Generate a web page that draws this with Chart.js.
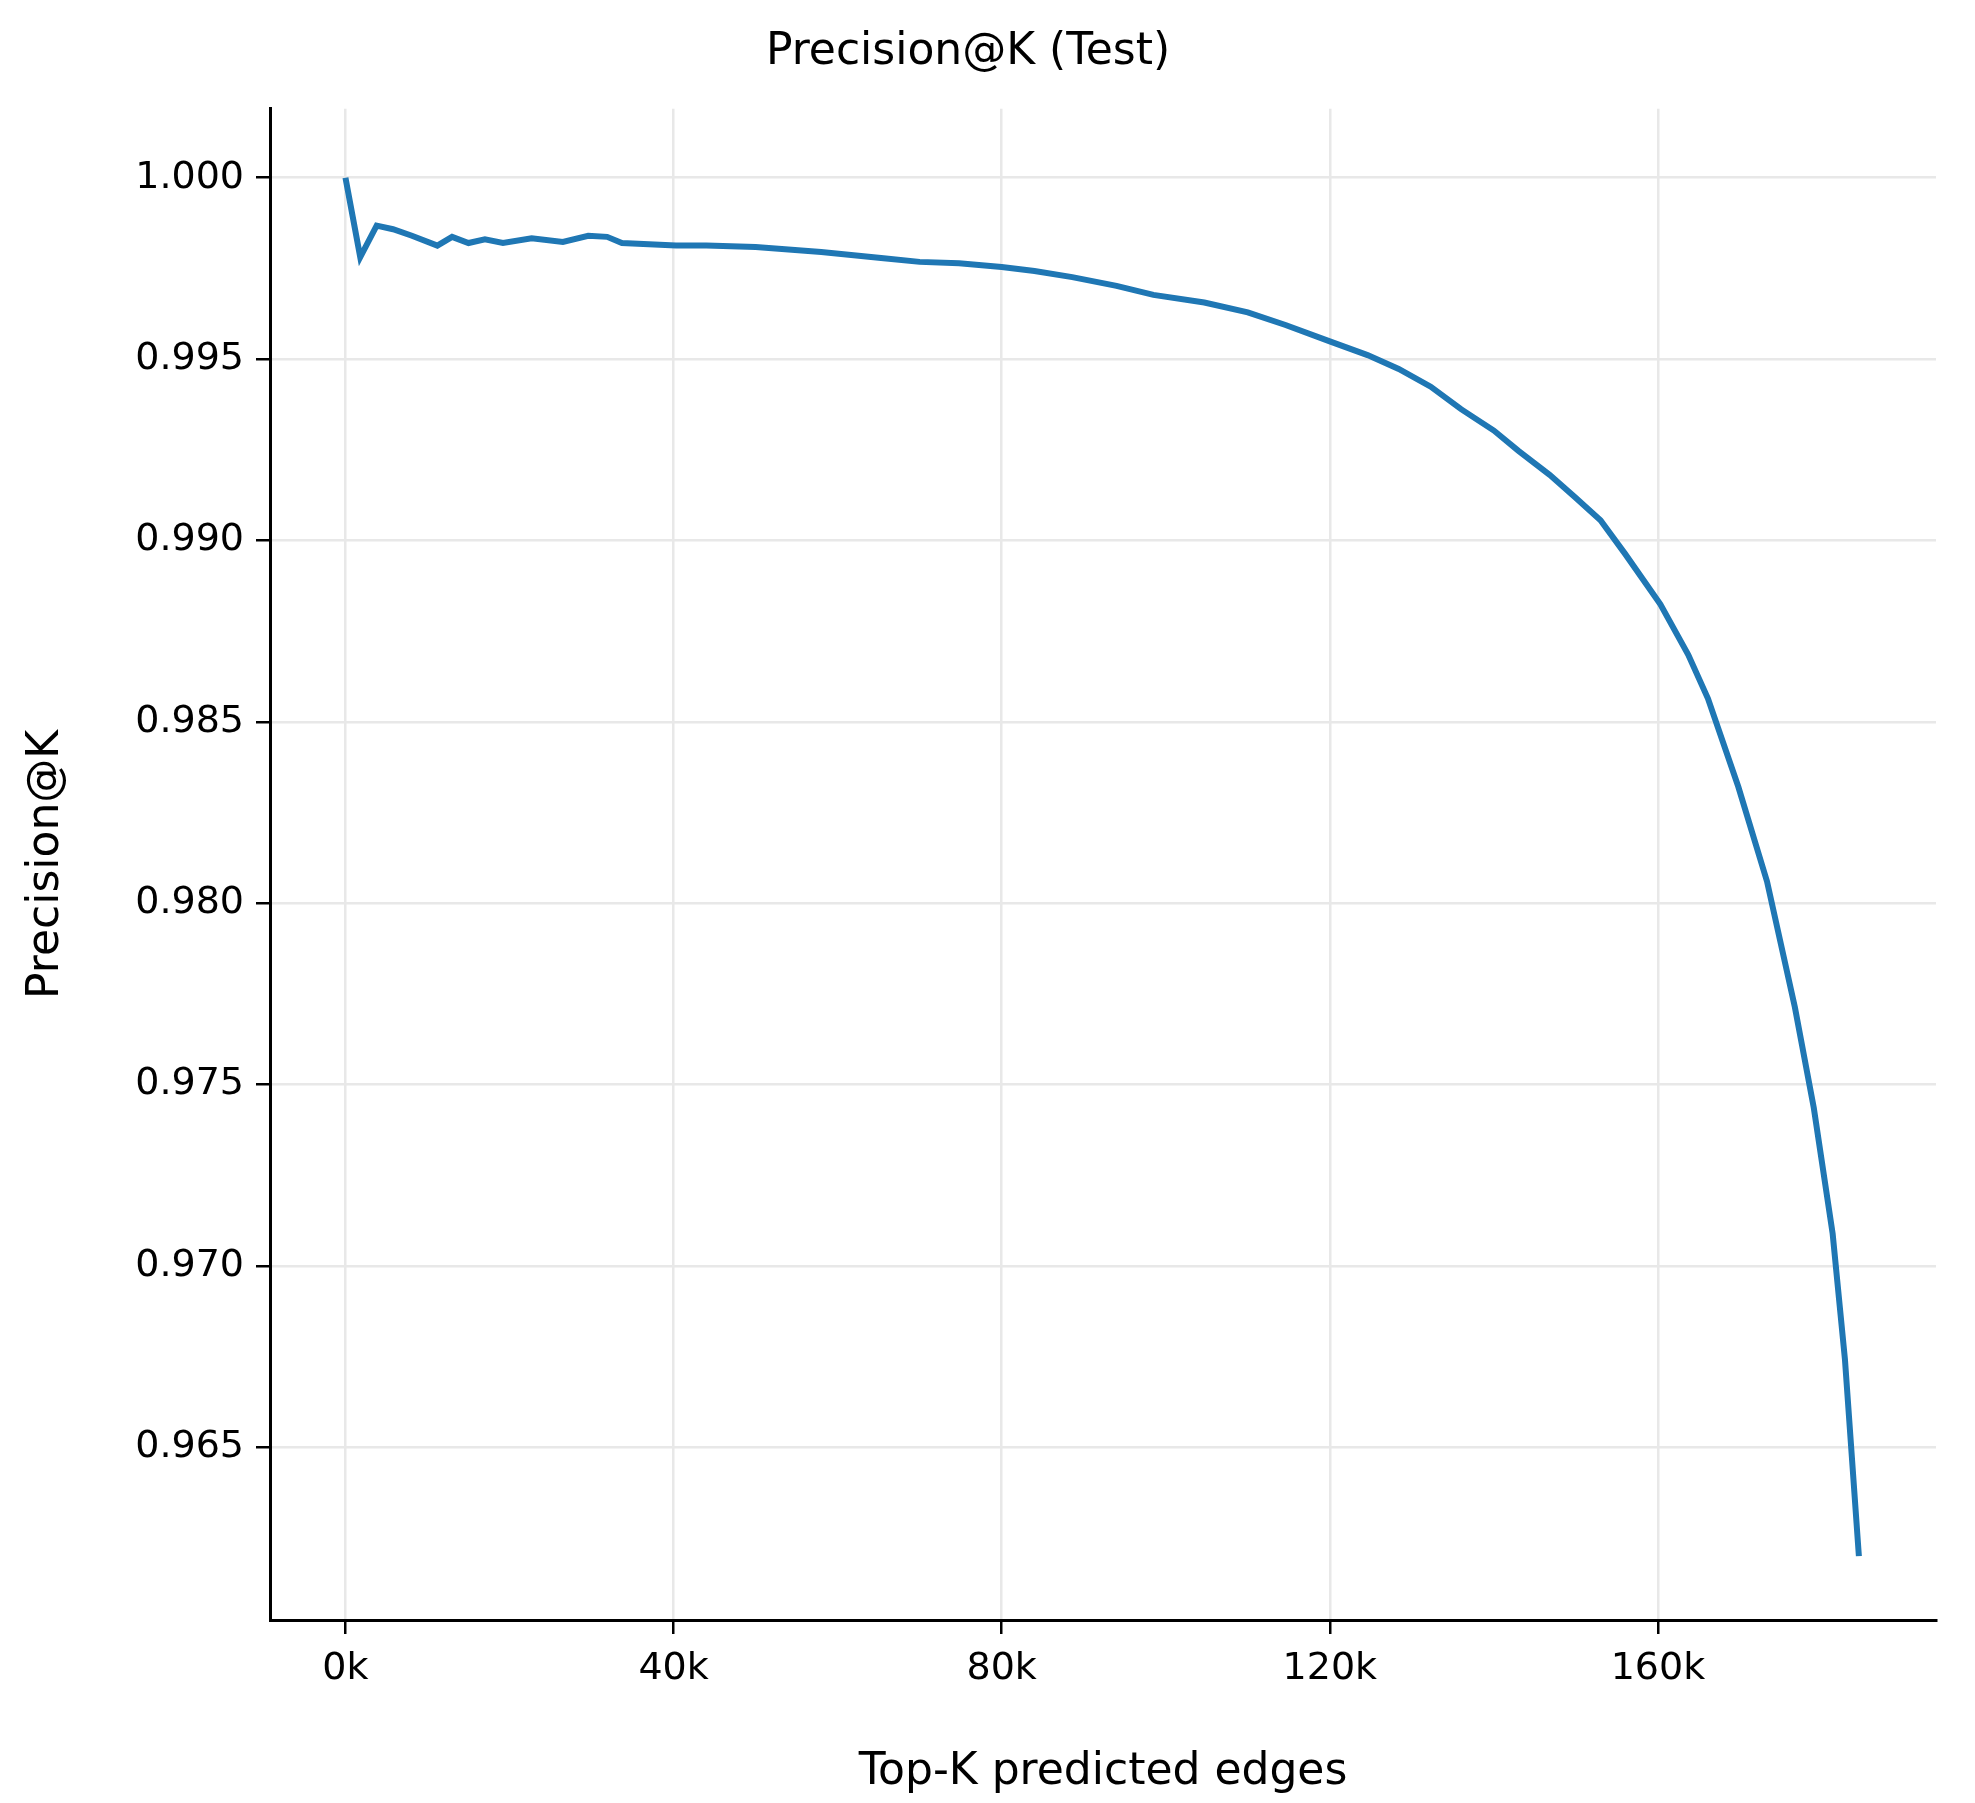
<!DOCTYPE html>
<html><head><meta charset="utf-8">
<script src="https://cdn.jsdelivr.net/npm/chart.js@4"></script>
<style>html,body{margin:0;padding:0;background:#fff}#w{width:1975px;height:1803px}</style>
</head><body><div id="w"><canvas id="c"></canvas></div>
<script>
const kValues = [0,1800,3800,5800,8100,11200,13000,15000,17000,19200,22700,26500,29600,31900,33700,40300,44000,50000,58000,65600,70000,74800,80000,84000,88600,94000,98500,104700,110000,114600,120000,124600,128400,132300,136000,140000,143000,146800,149900,153000,156000,160300,163700,166100,169800,173300,176700,179000,181300,182800,184500];
const precision = [1.0000,0.99781,0.99868,0.99858,0.99840,0.99813,0.99837,0.99820,0.99830,0.99820,0.99833,0.99823,0.99840,0.99837,0.99820,0.99813,0.99813,0.99809,0.99795,0.99778,0.99768,0.99764,0.99754,0.99743,0.99726,0.99702,0.99677,0.99656,0.99629,0.99594,0.99549,0.99511,0.99473,0.99424,0.99362,0.99303,0.99247,0.99181,0.99119,0.99056,0.98963,0.98824,0.98685,0.98564,0.98321,0.98060,0.97713,0.97436,0.97089,0.96742,0.9620];
const xTicks = [0,40000,80000,120000,160000];
const yTicks = [0.965,0.970,0.975,0.980,0.985,0.990,0.995,1.000];
const F = 'DejaVu Sans';
new Chart(document.getElementById('c'), {
  type:'line',
  data:{datasets:[{data:kValues.map((k,i)=>({x:k,y:precision[i]})),borderColor:'#1f77b4',borderWidth:6,pointRadius:0,tension:0,fill:false}]},
  options:{
    responsive:true,maintainAspectRatio:false,animation:false,devicePixelRatio:1,
    layout:{padding:{left:0,right:39,top:0,bottom:0}},
    plugins:{legend:{display:false},tooltip:{enabled:false},
      title:{display:true,text:'Precision@K (Test)',color:'#000',font:{family:F,size:44,weight:'normal'},padding:{top:26,bottom:30}}},
    scales:{
      x:{type:'linear',min:-9200,max:193900,
        afterBuildTicks:a=>{a.ticks=xTicks.map(v=>({value:v}));},
        afterFit:a=>{a.height=183;},
        ticks:{callback:v=>(v/1000)+'k',color:'#000',font:{family:F,size:38},padding:12,maxRotation:0},
        grid:{color:'#e8e8e8',lineWidth:2.5,tickColor:'#000',tickLength:14,tickWidth:2.5},
        border:{color:'#000',width:3},
        title:{display:true,text:'Top-K predicted edges',color:'#000',font:{family:F,size:44},padding:{top:14}}},
      y:{type:'linear',min:0.96024,max:1.0019,
        afterBuildTicks:a=>{a.ticks=yTicks.map(v=>({value:v}));},
        afterFit:a=>{a.width=270;},
        ticks:{callback:v=>v.toFixed(3),color:'#000',font:{family:F,size:38},padding:12},
        grid:{color:'#e8e8e8',lineWidth:2.5,tickColor:'#000',tickLength:14,tickWidth:2.5},
        border:{color:'#000',width:3},
        title:{display:true,text:'Precision@K',color:'#000',font:{family:F,size:44},padding:{top:20,bottom:16}}}
    }
  }
});
</script></body></html>
